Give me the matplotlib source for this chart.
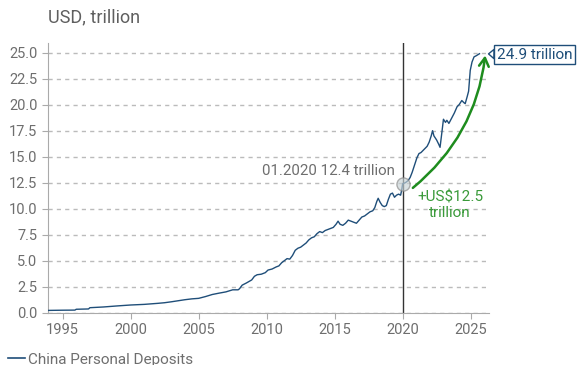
import matplotlib.pyplot as plt
from matplotlib.lines import Line2D

# China personal deposits, USD trillion
years = [1993.9, 1995.0, 1995.9, 1996.0, 1996.9, 1997.0, 1998.0, 1999.0, 2000.0,
         2001.0, 2002.0, 2002.5, 2003.0, 2003.5, 2004.0, 2004.5, 2005.0, 2005.5,
         2006.0, 2006.5, 2007.0, 2007.3, 2007.5, 2007.9, 2008.0, 2008.2, 2008.5,
         2008.9, 2009.1, 2009.3, 2009.6, 2009.9, 2010.1, 2010.4, 2010.7, 2010.9,
         2011.1, 2011.3, 2011.5, 2011.7, 2011.9, 2012.1, 2012.3, 2012.5, 2012.7,
         2012.9, 2013.1, 2013.3, 2013.5, 2013.7, 2013.9, 2014.1, 2014.3, 2014.5,
         2014.7, 2014.9, 2015.1, 2015.25, 2015.4, 2015.6, 2015.8, 2016.0, 2016.2,
         2016.4, 2016.6, 2016.8, 2017.0, 2017.2, 2017.4, 2017.6, 2017.8, 2017.95,
         2018.1, 2018.2, 2018.35, 2018.5, 2018.65, 2018.8, 2018.95, 2019.1, 2019.25,
         2019.4, 2019.55, 2019.7, 2019.85, 2019.93, 2020.0, 2020.2, 2020.4, 2020.55,
         2020.7, 2020.9, 2021.05, 2021.2, 2021.35, 2021.5, 2021.65, 2021.8, 2021.95,
         2022.1, 2022.2, 2022.3, 2022.4, 2022.5, 2022.65, 2022.75, 2022.9, 2023.0,
         2023.15, 2023.25, 2023.4, 2023.6, 2023.8, 2024.0, 2024.15, 2024.35, 2024.5,
         2024.6, 2024.75, 2024.85, 2024.97, 2025.1, 2025.25, 2025.4, 2025.65]
deposits = [0.22, 0.24, 0.25, 0.33, 0.36, 0.48, 0.55, 0.65, 0.74,
            0.80, 0.90, 0.96, 1.05, 1.15, 1.25, 1.33, 1.38, 1.55,
            1.75, 1.88, 2.00, 2.12, 2.20, 2.20, 2.30, 2.65, 2.85,
            3.15, 3.50, 3.65, 3.70, 3.85, 4.10, 4.20, 4.40, 4.50,
            4.80, 5.00, 5.20, 5.15, 5.50, 6.00, 6.20, 6.30, 6.50,
            6.70, 7.00, 7.20, 7.30, 7.60, 7.80, 7.70, 7.90, 8.00,
            8.10, 8.20, 8.50, 8.80, 8.50, 8.40, 8.60, 8.90, 8.80,
            8.70, 8.60, 8.90, 9.20, 9.30, 9.50, 9.70, 9.80, 10.10,
            10.70, 11.00, 10.60, 10.30, 10.20, 10.30, 10.90, 11.40, 11.50,
            11.10, 11.30, 11.40, 11.30, 11.80, 12.40, 12.50, 12.70, 13.00,
            13.50, 14.30, 14.90, 15.30, 15.40, 15.60, 15.80, 16.00, 16.40,
            17.00, 17.50, 17.00, 16.80, 16.60, 16.20, 15.90, 17.50, 18.60,
            18.30, 18.50, 18.20, 18.70, 19.20, 19.80, 20.00, 20.40, 20.20,
            20.10, 20.80, 21.30, 23.30, 24.10, 24.60, 24.70, 24.90]

x_ticks = [1995, 2000, 2005, 2010, 2015, 2020, 2025]
y_ticks = [0.0, 2.5, 5.0, 7.5, 10.0, 12.5, 15.0, 17.5, 20.0, 22.5, 25.0]

ref_year, ref_value = 2020.0, 12.4
last_value = 24.9
growth = 12.5

navy = "#1f4e79"
grey = "#6e6e6e"
green = "#1e8c1e"

plt.rcParams['font.family'] = ['Roboto', 'DejaVu Sans']

fig = plt.figure(figsize=(5.77, 3.65), dpi=100)
ax = fig.add_axes([0.0827, 0.1433, 0.7648, 0.7397])

ax.plot(years, deposits, color=navy, lw=1.0, zorder=3)

ax.set_xlim(1993.9, 2026.35)
ax.set_ylim(0, 25.96)
ax.set_xticks(x_ticks)
ax.set_yticks(y_ticks)
ax.set_yticklabels([f"{v:.1f}" for v in y_ticks])
ax.yaxis.grid(True, ls=(0, (3, 3)), color="#bbbbbb", lw=1)
ax.set_axisbelow(True)
for s in ["top", "right"]:
    ax.spines[s].set_visible(False)
for s in ["left", "bottom"]:
    ax.spines[s].set_color("#aaaaaa")
ax.tick_params(colors="#aaaaaa", labelcolor=grey, labelsize=10.5, length=4)

ax.text(0.0, 1.06, "USD, trillion", transform=ax.transAxes, fontsize=13,
        color="#5f5f5f", ha="left", va="bottom")

# vertical reference line and marker
ax.axvline(ref_year, color="#333333", lw=1.0, zorder=2)
ax.plot([ref_year], [ref_value], "o", ms=9.5, mfc="#c9d3d6", mec="#888888",
        mew=1, alpha=0.65, zorder=4)
ax.text(2019.45, 13.6, f"01.2020 {ref_value} trillion", color=grey,
        fontsize=10.8, ha="right", va="center")

# growth arrow
ax.annotate("", xy=(2026.07, 24.73), xytext=(2020.75, 12.0),
            arrowprops=dict(arrowstyle="->,head_length=0.6,head_width=0.35",
                            color=green, lw=1.8,
                            connectionstyle="arc3,rad=0.2",
                            shrinkA=0, shrinkB=0),
            zorder=5)
ax.text(2023.5, 10.3, f"+US${growth}\ntrillion", color="#3a9a3a",
        fontsize=11, ha="center", va="center", linespacing=1.15)

# callout for the last value
ax.annotate(f"{last_value} trillion", xy=(years[-1], last_value),
            xytext=(55, -1), textcoords="offset pixels",
            ha="center", va="center", fontsize=11, color=navy,
            annotation_clip=False,
            bbox=dict(boxstyle="square,pad=0.15", fc="white", ec=navy, lw=1),
            arrowprops=dict(arrowstyle="wedge,tail_width=0.6", fc="white",
                            ec=navy, lw=1, shrinkB=6.5, shrinkA=0))

handle = Line2D([], [], color=navy, lw=1.2)
fig.legend([handle], ["China Personal Deposits"], loc="center left",
           bbox_to_anchor=(0.014, 0.015), frameon=False, fontsize=11,
           handlelength=1.1, handletextpad=0.2, borderpad=0, borderaxespad=0,
           labelcolor=grey)

fig.savefig("out.png", dpi=100)
